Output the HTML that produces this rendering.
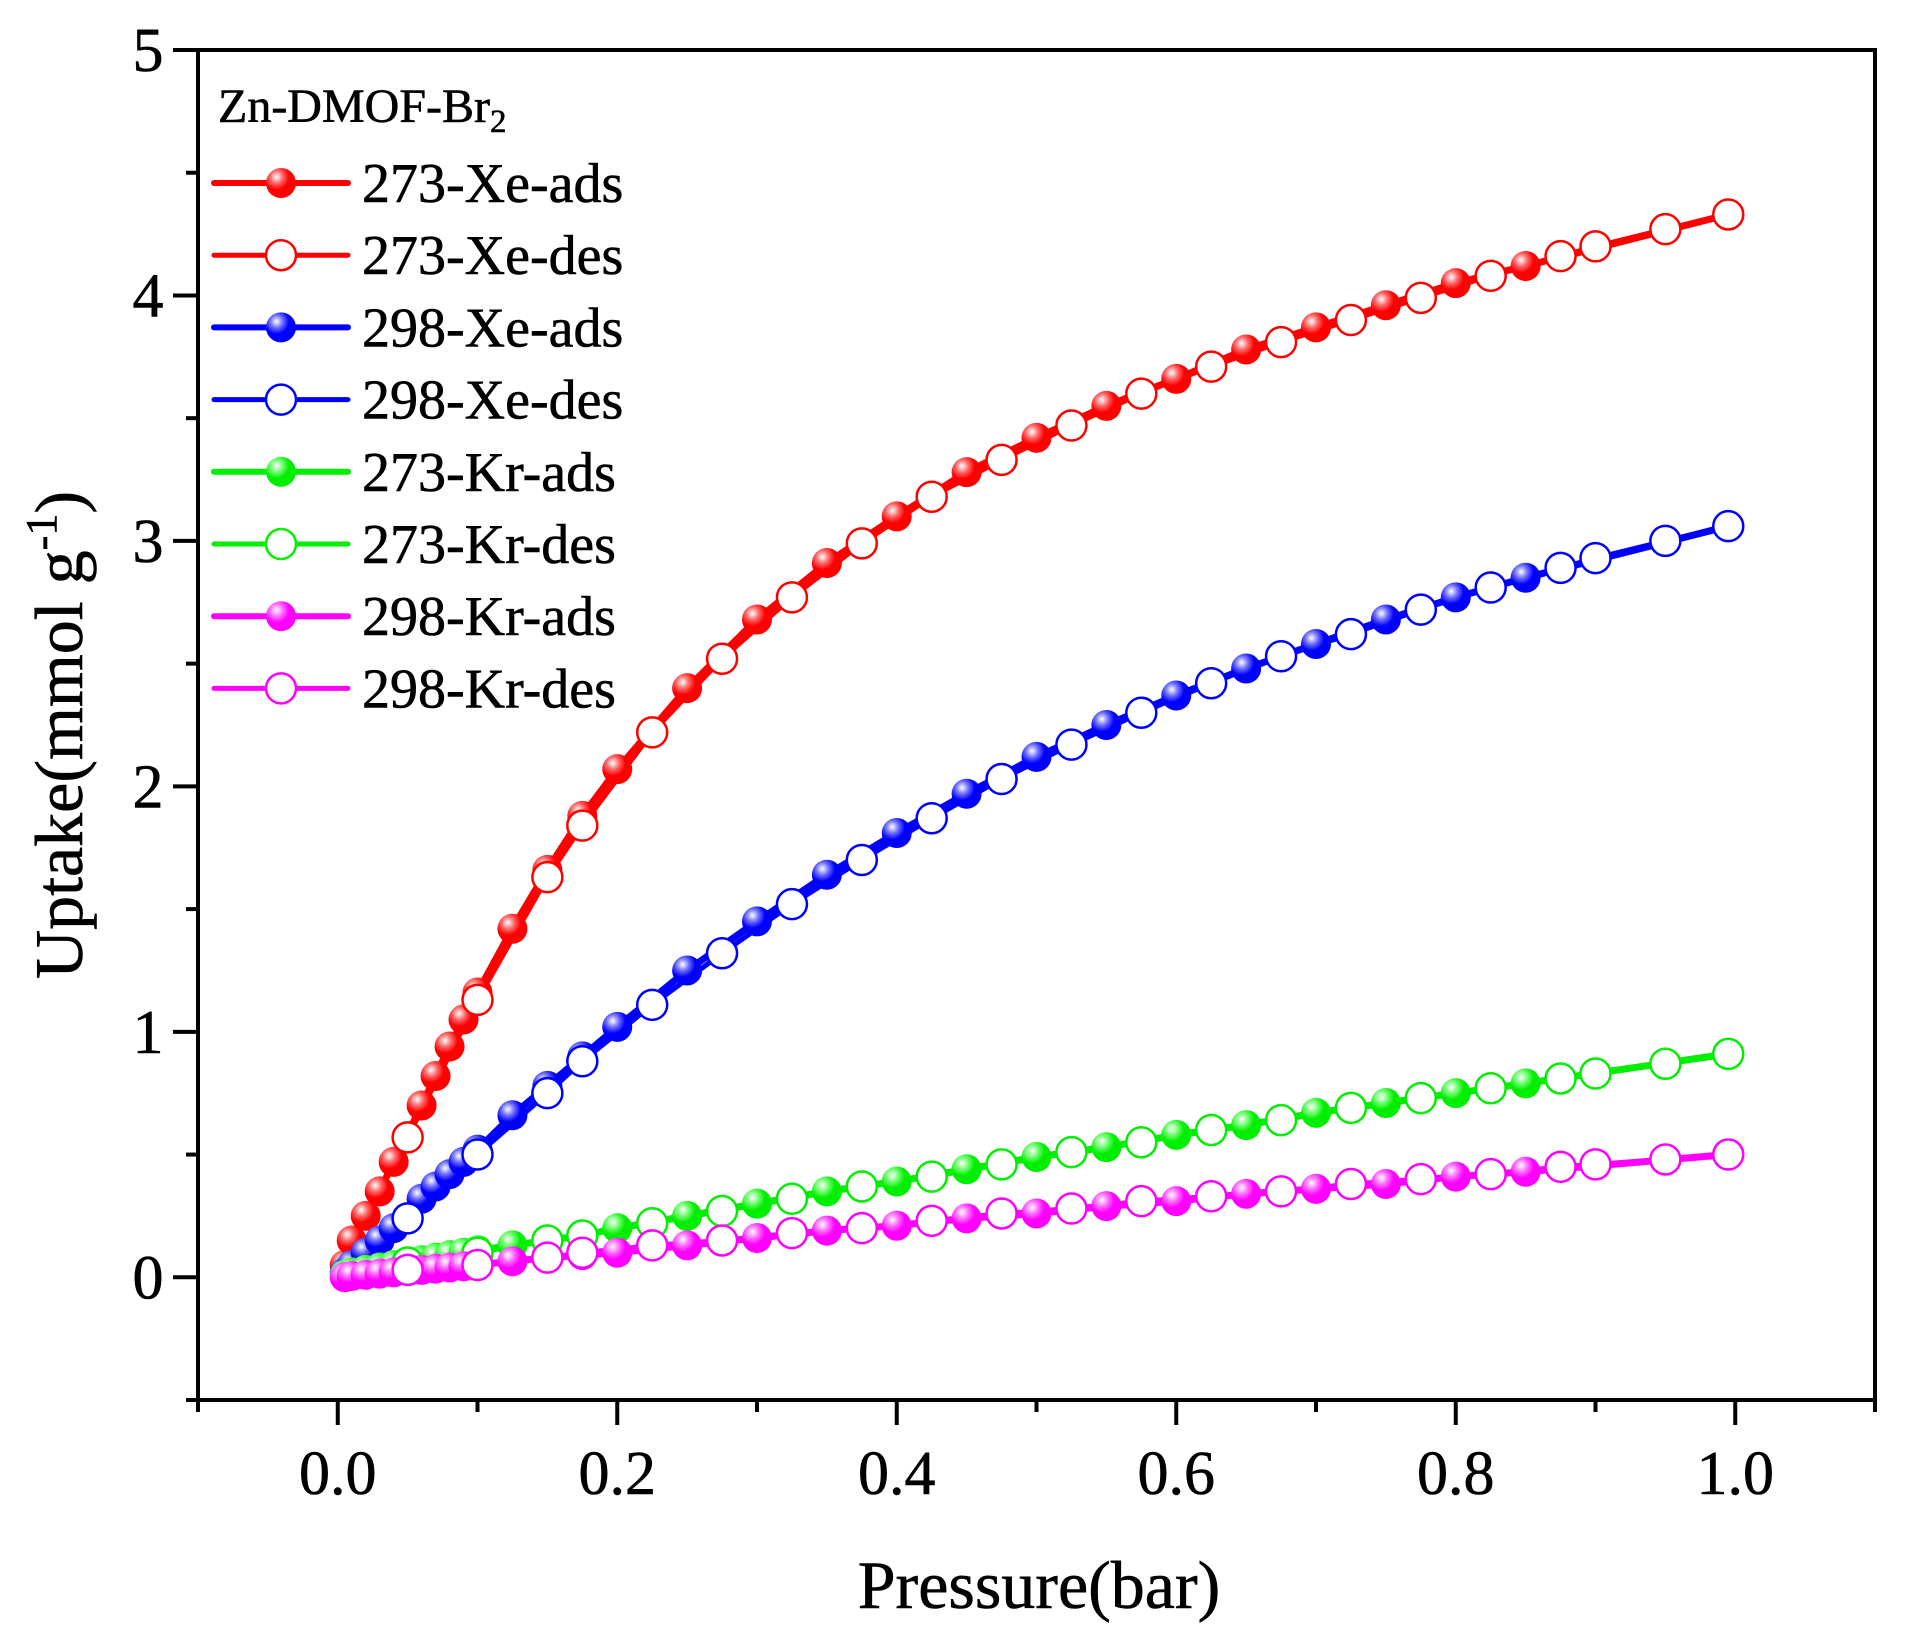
<!DOCTYPE html>
<html><head><meta charset="utf-8"><style>
html,body{margin:0;padding:0;background:#fff}
svg{display:block}
text{font-family:"Liberation Serif",serif;fill:#000;stroke:#000;stroke-width:0.6}
</style></head><body>
<svg id="chart" width="1907" height="1638" viewBox="0 0 1907 1638" xmlns="http://www.w3.org/2000/svg">
<defs>
<radialGradient id="gr" cx="0.35" cy="0.3" r="0.7"><stop offset="0" stop-color="#fff"/><stop offset="0.3" stop-color="#ff6a6a"/><stop offset="0.6" stop-color="#f00"/></radialGradient>
<radialGradient id="gb" cx="0.35" cy="0.3" r="0.7"><stop offset="0" stop-color="#fff"/><stop offset="0.3" stop-color="#7070ff"/><stop offset="0.6" stop-color="#00f"/></radialGradient>
<radialGradient id="gg" cx="0.35" cy="0.3" r="0.7"><stop offset="0" stop-color="#fff"/><stop offset="0.3" stop-color="#70ff70"/><stop offset="0.6" stop-color="#0e0"/></radialGradient>
<radialGradient id="gm" cx="0.35" cy="0.3" r="0.7"><stop offset="0" stop-color="#fff"/><stop offset="0.3" stop-color="#ff70ff"/><stop offset="0.6" stop-color="#f0f"/></radialGradient>
</defs>
<g id="plot"></g>
<g id="axes"></g>
<g id="legend">
<text x="218" y="122" font-size="48">Zn-DMOF-Br<tspan font-size="33" dy="10">2</tspan></text>
</g>
<text x="1039" y="1608" font-size="68" text-anchor="middle">Pressure(bar)</text>
<text transform="translate(82,735) rotate(-90)" font-size="68" text-anchor="middle">Uptake(mmol g<tspan font-size="44" dy="-26">-1</tspan><tspan dy="26">)</tspan></text>
</svg>
<script>
const xAds=[0.005,0.01,0.02,0.03,0.04,0.06,0.07,0.08,0.09,0.1,0.125,0.15,0.175,0.2,0.25,0.3,0.35,0.4,0.45,0.5,0.55,0.6,0.65,0.7,0.75,0.8,0.85,0.995];
const xDes=[0.995,0.95,0.9,0.875,0.825,0.775,0.725,0.675,0.625,0.575,0.525,0.475,0.425,0.375,0.325,0.275,0.225,0.175,0.15,0.1,0.05];
const xe273Ads=[0.05,0.15,0.25,0.35,0.47,0.7,0.82,0.94,1.05,1.16,1.42,1.66,1.88,2.07,2.4,2.68,2.91,3.1,3.28,3.42,3.55,3.66,3.78,3.87,3.96,4.05,4.12,4.33];
const xe273Des=[4.33,4.27,4.2,4.16,4.08,3.99,3.9,3.81,3.71,3.6,3.47,3.33,3.18,2.99,2.77,2.52,2.22,1.84,1.63,1.13,0.57];
const xe298Ads=[0.02,0.05,0.1,0.15,0.2,0.32,0.37,0.42,0.47,0.52,0.66,0.78,0.9,1.02,1.25,1.45,1.64,1.81,1.97,2.12,2.25,2.37,2.48,2.58,2.68,2.77,2.85,3.06];
const xe298Des=[3.06,3.0,2.93,2.89,2.81,2.72,2.62,2.53,2.42,2.3,2.17,2.03,1.87,1.7,1.52,1.32,1.11,0.88,0.75,0.5,0.24];
const kr273Ads=[0.01,0.02,0.03,0.04,0.05,0.07,0.08,0.09,0.1,0.11,0.13,0.15,0.17,0.2,0.25,0.3,0.35,0.39,0.44,0.49,0.53,0.58,0.62,0.67,0.71,0.75,0.79,0.91];
const kr273Des=[0.91,0.87,0.83,0.81,0.77,0.73,0.69,0.64,0.6,0.55,0.51,0.46,0.41,0.37,0.32,0.27,0.22,0.17,0.15,0.1,0.06];
const kr298Ads=[0,0.005,0.01,0.015,0.02,0.03,0.035,0.04,0.045,0.05,0.065,0.08,0.09,0.1,0.13,0.16,0.19,0.21,0.24,0.26,0.29,0.31,0.34,0.36,0.38,0.41,0.43,0.5];
const kr298Des=[0.5,0.48,0.46,0.45,0.42,0.4,0.38,0.35,0.33,0.31,0.28,0.26,0.23,0.2,0.18,0.15,0.13,0.1,0.08,0.05,0.03];
const xTicks=["0.0","0.2","0.4","0.6","0.8","1.0"];
const yTicks=["0","1","2","3","4","5"];
const legendLabels=["273-Xe-ads","273-Xe-des","298-Xe-ads","298-Xe-des","273-Kr-ads","273-Kr-des","298-Kr-ads","298-Kr-des"];

const NS="http://www.w3.org/2000/svg";
const X0=198,X1=1875,Y0=1400,Y1=50;
const xMin=-0.1,xMax=1.1,yMin=-0.5,yMax=5;
const sx=v=>X0+(v-xMin)/(xMax-xMin)*(X1-X0);
const sy=v=>Y0-(v-yMin)/(yMax-yMin)*(Y0-Y1);
function mk(tag,attrs,parent){const e=document.createElementNS(NS,tag);for(const k in attrs)e.setAttribute(k,attrs[k]);parent.appendChild(e);return e;}
const plot=document.getElementById('plot'),axes=document.getElementById('axes'),legend=document.getElementById('legend');
const series=[
 {n:"273-xe",c:"#f00",g:"gr",ya:xe273Ads,yd:xe273Des},
 {n:"298-xe",c:"#00f",g:"gb",ya:xe298Ads,yd:xe298Des},
 {n:"273-kr",c:"#0e0",g:"gg",ya:kr273Ads,yd:kr273Des},
 {n:"298-kr",c:"#f0f",g:"gm",ya:kr298Ads,yd:kr298Des}];
const R=15;
series.forEach(s=>{
 const pa=xAds.map((x,i)=>sx(x).toFixed(1)+","+sy(s.ya[i]).toFixed(1)).join(" ");
 const la=mk('polyline',{points:pa,fill:"none",stroke:s.c,"stroke-width":7,"stroke-linejoin":"round"},plot);
 
 
 const pd=xDes.map((x,i)=>sx(x).toFixed(1)+","+sy(s.yd[i]).toFixed(1)).join(" ");
 const ld=mk('polyline',{points:pd,fill:"none",stroke:s.c,"stroke-width":5,"stroke-linejoin":"round"},plot);
 
 
 xAds.forEach((x,i)=>{
  const c=mk('circle',{cx:sx(x),cy:sy(s.ya[i]),r:R,fill:"url(#"+s.g+")"},plot);
  
  
 });
 xDes.forEach((x,i)=>{
  const c=mk('circle',{cx:sx(x),cy:sy(s.yd[i]),r:R,fill:"#fff",stroke:s.c,"stroke-width":2.5},plot);
  
  
 });
});
const fr=mk('rect',{x:X0,y:Y1,width:X1-X0,height:Y0-Y1,fill:"none",stroke:"#000","stroke-width":4},axes);


for(let v=-0.5;v<=5.001;v+=0.5){
 const major=Math.abs(v-Math.round(v))<1e-6;
 const t=mk('line',{x1:X0-(major?25:12),x2:X0,y1:sy(v),y2:sy(v),stroke:"#000","stroke-width":4},axes);
 
 
}
yTicks.forEach(l=>{
 const t=mk('text',{x:148,y:sy(+l)+21,"font-size":62,"text-anchor":"middle"},axes);
 t.textContent=l;
 
 
});
for(let k=-1;k<=11;k++){
 const v=k/10;const major=k>=0&&k%2===0;
 const t=mk('line',{x1:sx(v),x2:sx(v),y1:Y0,y2:Y0+(major?25:12),stroke:"#000","stroke-width":4},axes);
 
 
}
xTicks.forEach(l=>{
 const t=mk('text',{x:sx(+l),y:1494,"font-size":62,"text-anchor":"middle"},axes);
 t.textContent=l;
 
 
});
legendLabels.forEach((l,i)=>{
 const s=series[Math.floor(i/2)],ads=i%2===0,y=183+i*72.2;
 const g=mk('g',{},legend);
 
 
 mk('line',{x1:214,x2:348,y1:y,y2:y,stroke:s.c,"stroke-width":ads?6:5,"stroke-linecap":"round"},g);
 if(ads)mk('circle',{cx:281,cy:y,r:R,fill:"url(#"+s.g+")"},g);
 else mk('circle',{cx:281,cy:y,r:R,fill:"#fff",stroke:s.c,"stroke-width":2.5},g);
 const t=mk('text',{x:362,y:y+19,"font-size":56},g);
 t.textContent=l;
});
</script>
</body></html>
